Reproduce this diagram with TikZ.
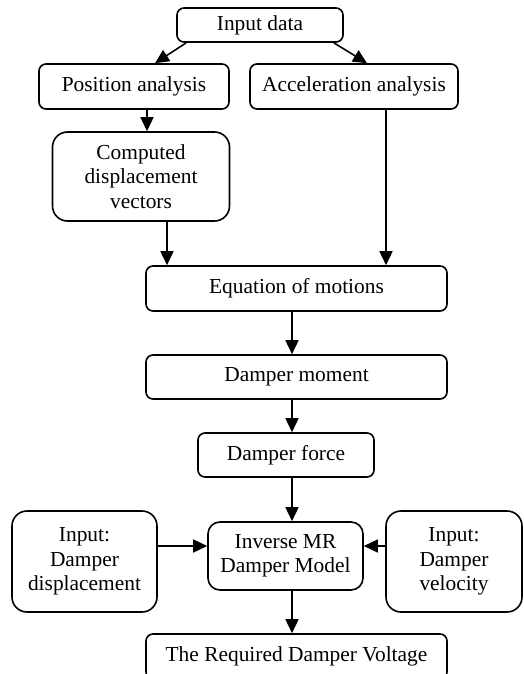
\documentclass[tikz,border=0pt]{standalone}
\usepackage{fontspec}
\setmainfont{Liberation Serif}
\usetikzlibrary{arrows.meta}

\begin{document}
\begin{tikzpicture}[
    x=1pt, y=-1pt,
    box/.style={rectangle, rounded corners=7pt, draw=black, line width=1.6pt, align=center, inner sep=2pt, font=\fontsize{21.4}{24.5}\selectfont},
    bigbox/.style={box, rounded corners=15pt},
    arrow/.style={-{Triangle[length=14pt, width=13pt]}, line width=1.6pt}
]
    \useasboundingbox (0,0) rectangle (524,674);

    % Blocks
    \node[box, minimum width=166pt, minimum height=34pt] (input) at (260,25) {Input data};
    \node[box, minimum width=190pt, minimum height=45pt] (pos) at (134,86.5) {Position analysis};
    \node[box, minimum width=208pt, minimum height=45pt] (acc) at (354,86.5) {Acceleration analysis};
    \node[bigbox, minimum width=177pt, minimum height=89pt] (comp) at (141,176.5) {Computed\\displacement\\vectors};
    \node[box, minimum width=301pt, minimum height=45pt] (eom) at (296.5,288.5) {Equation of motions};
    \node[box, minimum width=301pt, minimum height=44pt] (mom) at (296.5,377) {Damper moment};
    \node[box, minimum width=176pt, minimum height=44pt] (force) at (286,455) {Damper force};
    \node[box, rounded corners=12pt, minimum width=155pt, minimum height=68pt] (inv) at (285.5,556) {Inverse MR\\Damper Model};
    \node[bigbox, minimum width=145pt, minimum height=101pt] (indisp) at (84.5,561.5) {Input:\\Damper\\displacement};
    \node[bigbox, minimum width=136pt, minimum height=101pt] (invel) at (454,561.5) {Input:\\Damper\\velocity};
    \node[box, minimum width=301pt, minimum height=45pt] (volt) at (296.5,656.5) {The Required Damper Voltage};

    % Guide coordinates
    \coordinate (axis) at (292,0);
    \coordinate (side) at (0,546);

    % Top branches
    \draw[arrow] ([xshift=10pt]input.south west) -- ([xshift=21pt]pos.north);
    \draw[arrow] ([xshift=-10pt]input.south east) -- ([xshift=13pt]acc.north);
    \draw[arrow] ([xshift=13pt]pos.south) -- ([xshift=13pt]pos.south |- comp.north);
    \draw[arrow] ([xshift=26pt]comp.south) -- ([xshift=26pt]comp.south |- eom.north);
    \draw[arrow] ([xshift=32pt]acc.south) -- ([xshift=32pt]acc.south |- eom.north);

    % Main chain
    \draw[arrow] (eom.south -| axis) -- (mom.north -| axis);
    \draw[arrow] (mom.south -| axis) -- (force.north -| axis);
    \draw[arrow] (force.south -| axis) -- (inv.north -| axis);
    \draw[arrow] (inv.south -| axis) -- (volt.north -| axis);

    % Side inputs
    \draw[arrow] (indisp.east |- side) -- (inv.west |- side);
    \draw[arrow] (invel.west |- side) -- (inv.east |- side);

\end{tikzpicture}
\end{document}
